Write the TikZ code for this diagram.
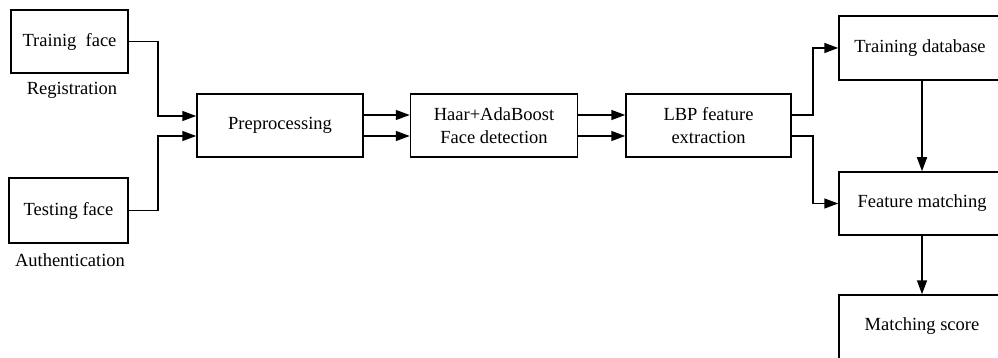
\documentclass[tikz,border=0pt]{standalone}
\usepackage{fontspec}
\setmainfont{Liberation Serif}
\usetikzlibrary{arrows.meta,calc}
\begin{document}
\begin{tikzpicture}[x=1pt,y=-1pt,
  box/.style={draw,line width=1.5pt,rectangle,inner sep=0pt,align=center,
    font=\fontsize{18.5}{23}\selectfont},
  lbl/.style={font=\fontsize{18.5}{23}\selectfont,inner sep=0pt},
  conn/.style={line width=1.5pt,-{Triangle[length=14pt,width=10pt]}},
  plain/.style={line width=1.5pt}]
\path[use as bounding box,clip] (0,0) rectangle (998,358);
\node[box,minimum width=117pt,minimum height=63pt] (train) at (69.5,41.5) {Trainig\ \ face};
\node[lbl] (reg) at (72,90) {Registration};
\node[box,minimum width=119pt,minimum height=65pt] (test) at (68.5,210.5) {Testing face};
\node[lbl] (auth) at (70,260) {Authentication};
\node[box,minimum width=166pt,minimum height=63pt] (pre) at (280,125.5) {Preprocessing};
\node[box,minimum width=167pt,minimum height=63pt] (haar) at (494,125.5) {Haar+AdaBoost\\Face detection};
\node[box,minimum width=165pt,minimum height=63pt] (lbp) at (708.5,125.5) {LBP feature\\extraction};
\node[box,minimum width=166pt,minimum height=64pt] (db) at (922,48) {\hspace*{-2pt}Training database\hspace*{2pt}};
\node[box,minimum width=166pt,minimum height=63pt] (fm) at (922,203.5) {Feature matching};
\node[box,minimum width=166pt,minimum height=64pt] (ms) at (922,327) {};
\node[lbl] (mst) at (922,326) {Matching score};
\draw[conn] (train.east) -- ++(29,0) |- ([yshift=9.5pt]pre.west);
\draw[conn] (test.east) -- ++(29,0) |- ([yshift=-10.5pt]pre.west);
\draw[conn] ([yshift=10.5pt]pre.east) -- ([yshift=10.5pt]haar.west);
\draw[conn] ([yshift=-10.5pt]pre.east) -- ([yshift=-10.5pt]haar.west);
\draw[conn] ([yshift=10.5pt]haar.east) -- ([yshift=10.5pt]lbp.west);
\draw[conn] ([yshift=-10.5pt]haar.east) -- ([yshift=-10.5pt]lbp.west);
\draw[conn] ([yshift=10.5pt]lbp.east) -- ++(21,0) |- (db.west);
\draw[conn] ([yshift=-10.5pt]lbp.east) -- ++(21,0) |- (fm.west);
\draw[conn] (db.south) -- (fm.north);
\draw[conn] (fm.south) -- (ms.north);
\end{tikzpicture}
\end{document}
